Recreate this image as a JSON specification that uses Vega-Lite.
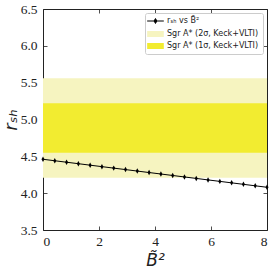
{
  "$schema": "https://vega.github.io/schema/vega-lite/v6.json",
  "width": 224,
  "height": 221,
  "autosize": {"type": "none"},
  "padding": {"left": 43, "top": 9, "right": 7, "bottom": 41},
  "background": "white",
  "config": {
    "view": {"stroke": "#222", "strokeWidth": 1},
    "axis": {
      "domain": false,
      "grid": false,
      "tickColor": "#222",
      "tickSize": -4,
      "tickWidth": 0.8,
      "labelOverlap": false,
      "labelFont": "'Liberation Serif', 'Times New Roman', serif",
      "labelFontSize": 13.5,
      "labelColor": "#222",
      "titleColor": "#222"
    }
  },
  "datasets": {
    "bands": [
      {"series": "Sgr A* (2σ, Keck+VLTI)", "lo": 4.21, "hi": 5.56},
      {"series": "Sgr A* (1σ, Keck+VLTI)", "lo": 4.55, "hi": 5.22}
    ],
    "curve": [
      {"b2": 0.0, "r": 4.46},
      {"b2": 0.421, "r": 4.44},
      {"b2": 0.842, "r": 4.42},
      {"b2": 1.263, "r": 4.40},
      {"b2": 1.684, "r": 4.38},
      {"b2": 2.105, "r": 4.36},
      {"b2": 2.526, "r": 4.34},
      {"b2": 2.947, "r": 4.32},
      {"b2": 3.368, "r": 4.30},
      {"b2": 3.789, "r": 4.28},
      {"b2": 4.211, "r": 4.26},
      {"b2": 4.632, "r": 4.24},
      {"b2": 5.053, "r": 4.22},
      {"b2": 5.474, "r": 4.20},
      {"b2": 5.895, "r": 4.18},
      {"b2": 6.316, "r": 4.16},
      {"b2": 6.737, "r": 4.14},
      {"b2": 7.158, "r": 4.12},
      {"b2": 7.579, "r": 4.10},
      {"b2": 8.0, "r": 4.08}
    ]
  },
  "layer": [
    {
      "data": {"name": "bands"},
      "mark": {"type": "rect"},
      "encoding": {
        "x": {"datum": 0, "type": "quantitative", "scale": {"domain": [0, 8], "nice": false, "zero": false},
          "axis": {"orient": "bottom", "values": [0, 2, 4, 6, 8], "format": "d", "labelOverlap": false, "labelFont": "'Liberation Serif', 'Times New Roman', serif", "labelFontSize": 13.5, "labelPadding": 8, "title": "B̃²", "titleFont": "DejaVu Sans", "titleFontStyle": "italic", "titleFontWeight": "normal", "titleFontSize": 17, "titlePadding": 5}},
        "x2": {"datum": 8},
        "y": {"field": "lo", "type": "quantitative", "scale": {"domain": [3.5, 6.5], "nice": false, "zero": false},
          "axis": {"orient": "left", "values": [3.5, 4.0, 4.5, 5.0, 5.5, 6.0, 6.5], "format": ".1f", "labelOverlap": false, "labelFont": "'Liberation Serif', 'Times New Roman', serif", "labelFontSize": 13.5, "labelPadding": 10, "title": "rₛₕ", "titleFont": "DejaVu Sans", "titleFontStyle": "italic", "titleFontWeight": "normal", "titleFontSize": 18, "titlePadding": 0}},
        "y2": {"field": "hi"},
        "color": {
          "field": "series",
          "type": "nominal",
          "sort": null,
          "scale": {"domain": ["rₛₕ vs B̃²", "Sgr A* (2σ, Keck+VLTI)", "Sgr A* (1σ, Keck+VLTI)"], "range": ["black", "#f6f4c0", "#f2ec30"]},
          "legend": {
            "title": null,
            "orient": "top-right",
            "offset": 4,
            "padding": 4,
            "strokeColor": "#cccccc",
            "fillColor": "white",
            "cornerRadius": 2,
            "labelFont": "DejaVu Sans",
            "labelFontSize": 8,
            "labelColor": "#222",
            "labelOffset": 10,
            "rowPadding": 4,
            "symbolSize": 81,
            "symbolOpacity": 1,
            "encode": {
              "symbols": {
                "update": {
                  "shape": {"signal": "datum.index === 0 ? 'M-1.3,0L2.4,0M0.55,-0.55L0.85,0L0.55,0.55L0.25,0Z' : 'M-1.3,-0.67L2.4,-0.67L2.4,0.67L-1.3,0.67Z'"},
                  "stroke": {"value": "black"},
                  "strokeWidth": {"signal": "datum.index === 0 ? 1 : 0"}
                }
              }
            }
          }
        }
      }
    },
    {
      "data": {"name": "curve"},
      "mark": {"type": "line", "color": "black", "strokeWidth": 1},
      "encoding": {
        "x": {"field": "b2", "type": "quantitative", "axis": {"orient": "top", "values": [0, 2, 4, 6, 8], "labels": false, "title": null}},
        "y": {"field": "r", "type": "quantitative", "axis": {"orient": "right", "values": [3.5, 4.0, 4.5, 5.0, 5.5, 6.0, 6.5], "labels": false, "title": null}}
      }
    },
    {
      "data": {"name": "curve"},
      "mark": {"type": "point", "filled": true, "color": "black", "opacity": 1, "size": 30, "shape": "M0,-1L0.55,0L0,1L-0.55,0Z"},
      "encoding": {
        "x": {"field": "b2", "type": "quantitative", "axis": null},
        "y": {"field": "r", "type": "quantitative", "axis": null}
      }
    }
  ],
  "resolve": {"axis": {"x": "independent", "y": "independent"}}
}
